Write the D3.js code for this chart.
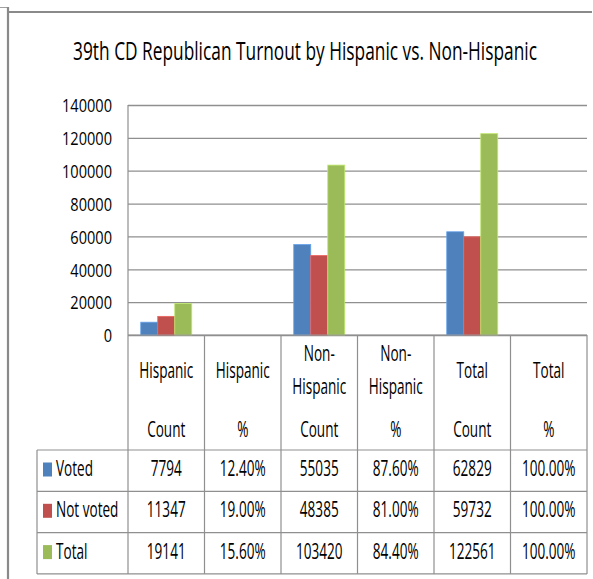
<!DOCTYPE html>
<html>
<head>
<meta charset="utf-8">
<script src="https://cdn.jsdelivr.net/npm/d3@7"></script>
<style>
  html, body { margin: 0; padding: 0; background: #fff; }
  svg { display: block; }
  text { font-family: "Open Sans", "Liberation Sans", sans-serif; fill: #000; }
</style>
</head>
<body>
<script>
// ---------- data ----------
const title = "39th CD Republican Turnout by Hispanic vs. Non-Hispanic";
const categories = ["Hispanic Count", "Hispanic %", "Non-Hispanic Count", "Non-Hispanic %", "Total Count", "Total %"];
const headerLines = [["Hispanic", "Count"], ["Hispanic", "%"], ["Non-", "Hispanic", "Count"], ["Non-", "Hispanic", "%"], ["Total", "Count"], ["Total", "%"]];
const seriesNames = ["Voted", "Not voted", "Total"];
const voted    = [7794, 0.124, 55035, 0.876, 62829, 1.0];
const notVoted = [11347, 0.19, 48385, 0.81, 59732, 1.0];
const totals   = [19141, 0.156, 103420, 0.844, 122561, 1.0];
const seriesValues = [voted, notVoted, totals];
const seriesColors = ["#4F81BD", "#C0504D", "#9BBB59"];
const yTicks = [0, 20000, 40000, 60000, 80000, 100000, 120000, 140000];

// ---------- layout ----------
const W = 593, H = 579;
const plotL = 128, plotR = 587, plotT = 105, plotB = 335;
const headerB = 450, rowH = 41.3, tableL = 37;
const lineColor = "#8f8f8f";
const axisFont = 19;
const tableFont = 21.5;
const titleSize = 26;

const svg = d3.select("body").append("svg").attr("width", W).attr("height", H);
svg.append("rect").attr("width", W).attr("height", H).attr("fill", "#fff");

// frame
svg.append("line").attr("x1", 0).attr("x2", 8).attr("y1", 7.5).attr("y2", 7.5).attr("stroke", "#a0a0a0").attr("stroke-width", 1);
svg.append("line").attr("x1", 8).attr("x2", 8).attr("y1", 7).attr("y2", H).attr("stroke", "#8a8a8a").attr("stroke-width", 2.2);
svg.append("line").attr("x1", 9).attr("x2", 592).attr("y1", 12).attr("y2", 12).attr("stroke", "#8a8a8a").attr("stroke-width", 2);

// scale-x text helper
function measure(str, size) {
  const t = svg.append("text").style("font-size", size + "px").text(str);
  const w = t.node().getComputedTextLength();
  t.remove();
  return w;
}
const axisSx = 50 / measure("140000", axisFont);
const tableSx = 54 / measure("Hispanic", tableFont);
const titleSx = 464 / measure(title, titleSize);

function addText(parent, str, x, y, anchor, size, scaleX) {
  return parent.append("text")
    .attr("transform", `translate(${x},${y}) scale(${scaleX},1)`)
    .attr("text-anchor", anchor)
    .style("font-size", size + "px")
    .text(str);
}

// title
addText(svg, title, 305, 60, "middle", titleSize, titleSx);

// scales
const x = d3.scaleBand().domain(categories).range([plotL, plotR]).paddingInner(0).paddingOuter(0);
const xs = d3.scaleBand().domain(seriesNames).range([0, x.bandwidth()]).paddingInner(0).paddingOuter(0.75);
const y = d3.scaleLinear().domain([0, 140000]).range([plotB, plotT]);

// gridlines
const grid = svg.append("g").attr("transform", `translate(${plotL},0)`)
  .call(d3.axisLeft(y).tickValues(yTicks).tickSize(-(plotR - plotL)).tickFormat(""));
grid.select(".domain").remove();
grid.selectAll(".tick line").attr("stroke", lineColor).attr("stroke-width", 1.3);

// y axis line
svg.append("line").attr("x1", plotL).attr("x2", plotL).attr("y1", plotT).attr("y2", plotB)
  .attr("stroke", lineColor).attr("stroke-width", 1.2);

// y labels
const yAxis = svg.append("g").attr("transform", `translate(${plotL},0)`)
  .call(d3.axisLeft(y).tickValues(yTicks).tickSize(0).tickFormat(d3.format("d")));
yAxis.select(".domain").remove();
yAxis.selectAll(".tick text")
  .attr("x", null).attr("dy", null)
  .attr("transform", `translate(-16,6.8) scale(${axisSx},1)`)
  .attr("text-anchor", "end")
  .style("font-size", axisFont + "px")
  .attr("font-family", null)
  .attr("fill", "#000");

// bars
seriesNames.forEach((s, si) => {
  svg.append("g").selectAll("rect")
    .data(categories.map((c, i) => ({ c, v: seriesValues[si][i] })))
    .join("rect")
    .attr("x", d => x(d.c) + xs(s))
    .attr("width", xs.bandwidth())
    .attr("y", d => y(d.v))
    .attr("height", d => y(0) - y(d.v))
    .attr("fill", seriesColors[si])
    .attr("stroke", d => (y(0) - y(d.v)) > 2 ? d3.color(seriesColors[si]).brighter(0.6) : "none")
    .attr("stroke-width", 0.8);
});

// ---------- data table ----------
const tbl = svg.append("g");
const rowTops = [headerB, headerB + rowH, headerB + 2 * rowH];
const tableB = headerB + 3 * rowH;
function hline(x1, x2, yy) {
  tbl.append("line").attr("x1", x1).attr("x2", x2).attr("y1", yy).attr("y2", yy)
    .attr("stroke", lineColor).attr("stroke-width", 1.2);
}
function vline(xx, y1, y2) {
  tbl.append("line").attr("x1", xx).attr("x2", xx).attr("y1", y1).attr("y2", y2)
    .attr("stroke", lineColor).attr("stroke-width", 1.2);
}
hline(plotL, plotR, plotB);
rowTops.forEach(t => hline(tableL, plotR, t));
hline(tableL, plotR, tableB);
vline(tableL, headerB, tableB);
categories.forEach(c => vline(x(c), plotB, tableB));
vline(plotR, plotB, tableB);

// header texts
const headerBaselines = { 2: [378, 437], 3: [361, 394, 437] };
categories.forEach((c, i) => {
  const lines = headerLines[i];
  const bl = headerBaselines[lines.length];
  lines.forEach((ln, li) => addText(tbl, ln, x(c) + x.bandwidth() / 2, bl[li], "middle", tableFont, tableSx));
});

// row texts
const fmtCount = d3.format("d");
const fmtPct = d3.format(".2%");
seriesNames.forEach((s, si) => {
  const top = rowTops[si];
  const base = top + 26;
  tbl.append("rect").attr("x", 43).attr("y", top + 12.5).attr("width", 9).attr("height", 14)
    .attr("fill", seriesColors[si]);
  addText(tbl, s, 56, base, "start", tableFont, tableSx);
  categories.forEach((c, i) => {
    const v = seriesValues[si][i];
    const label = c.endsWith("%") ? fmtPct(v) : fmtCount(v);
    addText(tbl, label, x(c) + x.bandwidth() / 2, base, "middle", tableFont, tableSx);
  });
});
</script>
</body>
</html>
